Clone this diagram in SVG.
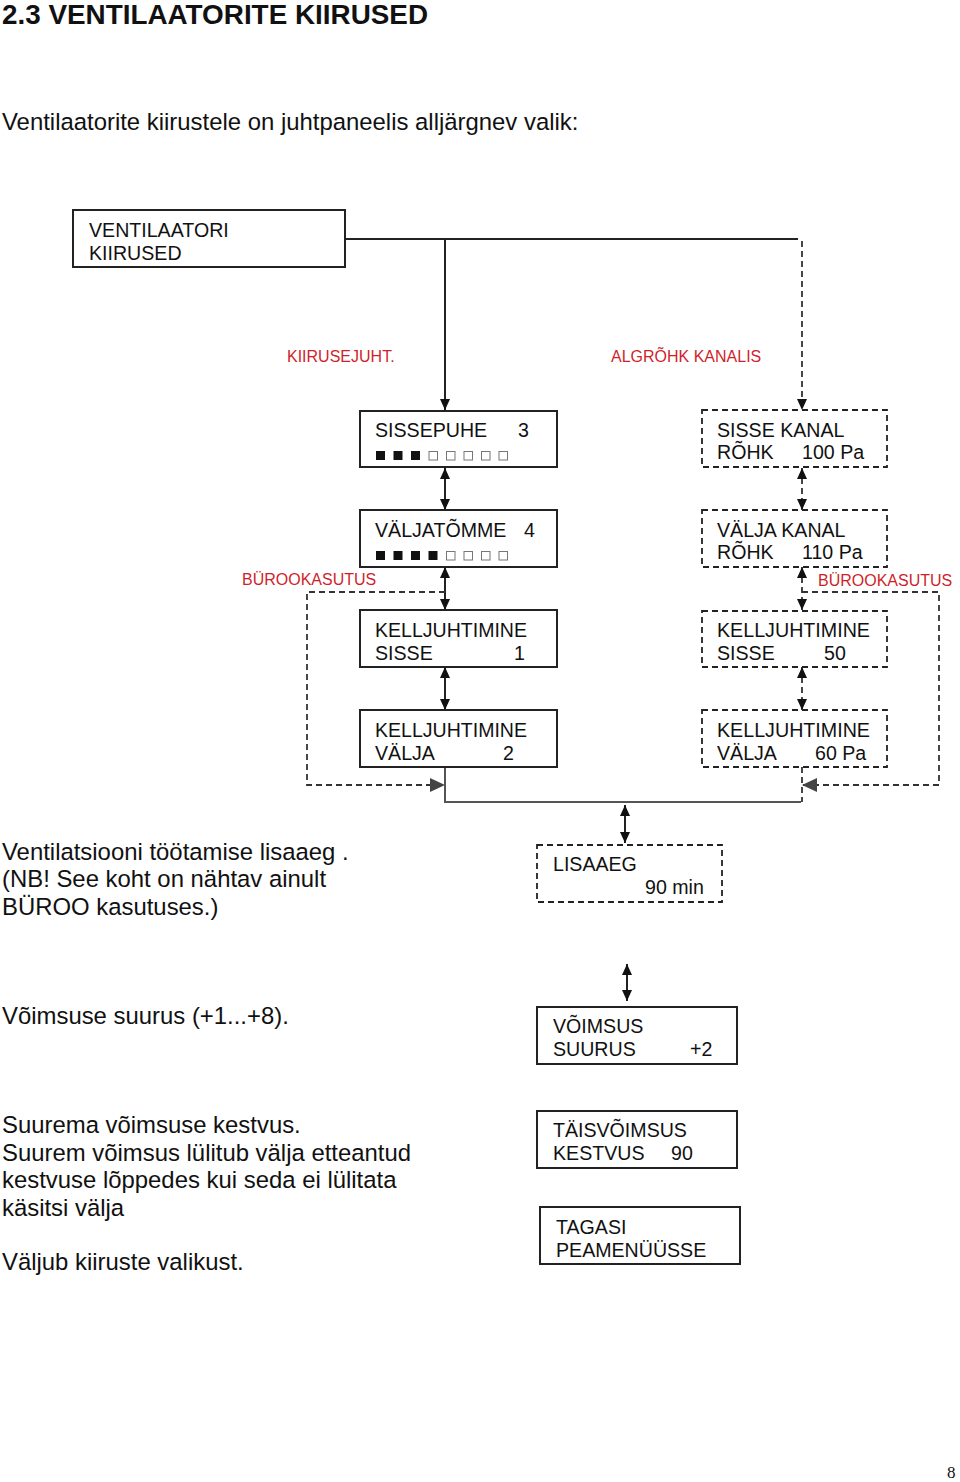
<svg xmlns="http://www.w3.org/2000/svg" width="960" height="1482" viewBox="0 0 960 1482">
<style>
text{font-family:"Liberation Sans",Arial,Helvetica,sans-serif;fill:#111}
.title{font-size:27px;font-weight:bold}
.body{font-size:23.9px}
.bt{font-size:19.6px}
.red{font-size:16px;fill:#cf1f2b}
.box{fill:#fff;stroke:#222;stroke-width:2}
.dbox{fill:#fff;stroke:#222;stroke-width:1.8;stroke-dasharray:6 4}
.ln{fill:none;stroke:#222;stroke-width:2}
.gln{fill:none;stroke:#555;stroke-width:2}
.dln{fill:none;stroke:#333;stroke-width:1.8;stroke-dasharray:6 4}
.sqf{fill:#111}
.sqe{fill:#fff;stroke:#777;stroke-width:1}
.pg{font-family:"Liberation Serif","Times New Roman",serif;font-size:17px}
</style>
<defs>
<marker id="ah" viewBox="0 0 11 10" refX="11" refY="5" markerWidth="11" markerHeight="10" markerUnits="userSpaceOnUse" orient="auto-start-reverse"><path d="M0,0 L11,5 L0,10 z" fill="#111"/></marker>
<marker id="gh" viewBox="0 0 15 14" refX="15" refY="7" markerWidth="15" markerHeight="14" markerUnits="userSpaceOnUse" orient="auto"><path d="M0,0 L15,7 L0,14 z" fill="#444"/></marker>
</defs>

<text class="title" x="2" y="24" textLength="426" lengthAdjust="spacingAndGlyphs">2.3 VENTILAATORITE KIIRUSED</text>
<text class="body" x="2" y="130">Ventilaatorite kiirustele on juhtpaneelis alljärgnev valik:</text>

<g id="connectors">
<path class="ln" d="M345,239 H798"/>
<path class="ln" d="M445,239 V410" marker-end="url(#ah)"/>
<path class="dln" d="M802,241 V410" marker-end="url(#ah)"/>
<path class="ln" d="M445,468 V510" marker-start="url(#ah)" marker-end="url(#ah)"/>
<path class="ln" d="M445,567 V610" marker-start="url(#ah)" marker-end="url(#ah)"/>
<path class="ln" d="M445,667 V710" marker-start="url(#ah)" marker-end="url(#ah)"/>
<path class="dln" d="M802,468 V510" marker-start="url(#ah)" marker-end="url(#ah)"/>
<path class="dln" d="M802,567 V610" marker-start="url(#ah)" marker-end="url(#ah)"/>
<path class="dln" d="M802,667 V710" marker-start="url(#ah)" marker-end="url(#ah)"/>
<path class="dln" d="M445,592 H307 V785 H445" marker-end="url(#gh)"/>
<path class="dln" d="M802,592 H939 V785 H802" marker-end="url(#gh)"/>
<path class="gln" d="M445,767 V802 H801"/>
<path class="dln" d="M802,767 V802"/>
<path class="ln" d="M625,805 V843" marker-start="url(#ah)" marker-end="url(#ah)"/>
<path class="ln" d="M627,964 V1001" marker-start="url(#ah)" marker-end="url(#ah)"/>
</g>

<g id="labels">
<text class="red" x="287" y="362">KIIRUSEJUHT.</text>
<text class="red" x="611" y="362">ALGRÕHK KANALIS</text>
<text class="red" x="242" y="585">BÜROOKASUTUS</text>
<text class="red" x="818" y="586">BÜROOKASUTUS</text>
</g>

<g id="node-ventilaatori">
<rect class="box" x="73" y="210" width="272" height="57"/>
<text class="bt" x="89" y="237">VENTILAATORI</text>
<text class="bt" x="89" y="260">KIIRUSED</text>
</g>

<g id="node-sissepuhe">
<rect class="box" x="360" y="411" width="197" height="56"/>
<text class="bt" x="375" y="437">SISSEPUHE</text>
<text class="bt" x="518" y="437">3</text>
<rect class="sqf" x="376" y="451" width="9" height="9"/>
<rect class="sqf" x="393.5" y="451" width="9" height="9"/>
<rect class="sqf" x="411" y="451" width="9" height="9"/>
<rect class="sqe" x="429" y="451.5" width="8.5" height="8.5"/>
<rect class="sqe" x="446.5" y="451.5" width="8.5" height="8.5"/>
<rect class="sqe" x="464" y="451.5" width="8.5" height="8.5"/>
<rect class="sqe" x="481.5" y="451.5" width="8.5" height="8.5"/>
<rect class="sqe" x="499" y="451.5" width="8.5" height="8.5"/>
</g>

<g id="node-valjatomme">
<rect class="box" x="360" y="510" width="197" height="57"/>
<text class="bt" x="375" y="537">VÄLJATÕMME</text>
<text class="bt" x="524" y="537">4</text>
<rect class="sqf" x="376" y="551" width="9" height="9"/>
<rect class="sqf" x="393.5" y="551" width="9" height="9"/>
<rect class="sqf" x="411" y="551" width="9" height="9"/>
<rect class="sqf" x="428.5" y="551" width="9" height="9"/>
<rect class="sqe" x="446.5" y="551.5" width="8.5" height="8.5"/>
<rect class="sqe" x="464" y="551.5" width="8.5" height="8.5"/>
<rect class="sqe" x="481.5" y="551.5" width="8.5" height="8.5"/>
<rect class="sqe" x="499" y="551.5" width="8.5" height="8.5"/>
</g>

<g id="node-kell-sisse-1">
<rect class="box" x="360" y="610" width="197" height="57"/>
<text class="bt" x="375" y="637" textLength="152" lengthAdjust="spacingAndGlyphs">KELLJUHTIMINE</text>
<text class="bt" x="375" y="660">SISSE</text>
<text class="bt" x="514" y="660">1</text>
</g>

<g id="node-kell-valja-2">
<rect class="box" x="360" y="710" width="197" height="57"/>
<text class="bt" x="375" y="737" textLength="152" lengthAdjust="spacingAndGlyphs">KELLJUHTIMINE</text>
<text class="bt" x="375" y="760">VÄLJA</text>
<text class="bt" x="503" y="760">2</text>
</g>

<g id="node-sisse-kanal">
<rect class="dbox" x="702" y="410" width="185" height="57"/>
<text class="bt" x="717" y="437">SISSE KANAL</text>
<text class="bt" x="717" y="459">RÕHK</text>
<text class="bt" x="802" y="459">100 Pa</text>
</g>

<g id="node-valja-kanal">
<rect class="dbox" x="702" y="510" width="185" height="57"/>
<text class="bt" x="717" y="537">VÄLJA KANAL</text>
<text class="bt" x="717" y="559">RÕHK</text>
<text class="bt" x="802" y="559">110 Pa</text>
</g>

<g id="node-kell-sisse-50">
<rect class="dbox" x="702" y="611" width="185" height="56"/>
<text class="bt" x="717" y="637" textLength="153" lengthAdjust="spacingAndGlyphs">KELLJUHTIMINE</text>
<text class="bt" x="717" y="660">SISSE</text>
<text class="bt" x="824" y="660">50</text>
</g>

<g id="node-kell-valja-60">
<rect class="dbox" x="702" y="710" width="185" height="57"/>
<text class="bt" x="717" y="737" textLength="153" lengthAdjust="spacingAndGlyphs">KELLJUHTIMINE</text>
<text class="bt" x="717" y="760">VÄLJA</text>
<text class="bt" x="815" y="760">60 Pa</text>
</g>

<g id="node-lisaaeg">
<rect class="dbox" x="537" y="845" width="185" height="57"/>
<text class="bt" x="553" y="871">LISAAEG</text>
<text class="bt" x="645" y="894">90 min</text>
</g>

<g id="node-voimsus">
<rect class="box" x="537" y="1007" width="200" height="57"/>
<text class="bt" x="553" y="1033">VÕIMSUS</text>
<text class="bt" x="553" y="1056">SUURUS</text>
<text class="bt" x="690" y="1056">+2</text>
</g>

<g id="node-taisvoimsus">
<rect class="box" x="537" y="1111" width="200" height="57"/>
<text class="bt" x="553" y="1137">TÄISVÕIMSUS</text>
<text class="bt" x="553" y="1160">KESTVUS</text>
<text class="bt" x="671" y="1160">90</text>
</g>

<g id="node-tagasi">
<rect class="box" x="540" y="1207" width="200" height="57"/>
<text class="bt" x="556" y="1234">TAGASI</text>
<text class="bt" x="556" y="1257">PEAMENÜÜSSE</text>
</g>

<g id="descriptions">
<text class="body" x="2" y="860">Ventilatsiooni töötamise lisaaeg .</text>
<text class="body" x="2" y="887">(NB! See koht on nähtav ainult</text>
<text class="body" x="2" y="915">BÜROO kasutuses.)</text>
<text class="body" x="2" y="1024">Võimsuse suurus (+1...+8).</text>
<text class="body" x="2" y="1133">Suurema võimsuse kestvus.</text>
<text class="body" x="2" y="1161">Suurem võimsus lülitub välja etteantud</text>
<text class="body" x="2" y="1188">kestvuse lõppedes kui seda ei lülitata</text>
<text class="body" x="2" y="1216">käsitsi välja</text>
<text class="body" x="2" y="1270">Väljub kiiruste valikust.</text>
</g>

<text class="pg" x="947" y="1478">8</text>
</svg>
